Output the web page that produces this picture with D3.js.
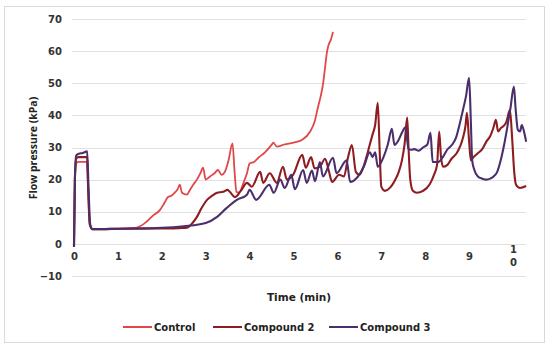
<!DOCTYPE html>
<html><head><meta charset="utf-8">
<script src="https://cdn.jsdelivr.net/npm/d3@7/dist/d3.min.js"></script>
<style>body{margin:0;background:#fff}svg{display:block}</style>
</head><body><svg id="c" width="550" height="350"></svg>
<script>
const seriesNames = ["Control", "Compound 2", "Compound 3"];
const seriesColors = ["#e0474a", "#8e1d22", "#4b2e6c"];
const yTicks = [-10, 0, 10, 20, 30, 40, 50, 60, 70];
const xTicks = [0, 1, 2, 3, 4, 5, 6, 7, 8, 9, 10];

const controlTime = [0, 0.02, 0.05, 0.1, 0.2, 0.29, 0.32, 0.36, 0.42, 0.6, 1.0, 1.4, 1.6, 1.8, 1.96, 2.05, 2.14, 2.22, 2.3, 2.36, 2.41, 2.46, 2.57, 2.64, 2.72, 2.8, 2.88, 2.94, 3.0, 3.1, 3.2, 3.28, 3.36, 3.44, 3.52, 3.61, 3.66, 3.7, 3.76, 3.86, 3.94, 4.0, 4.1, 4.2, 4.35, 4.5, 4.54, 4.62, 4.8, 5.0, 5.2, 5.38, 5.48, 5.56, 5.62, 5.67, 5.72, 5.76, 5.8, 5.85, 5.9];
const controlValues = [-1, 20, 25, 25.5, 25.5, 25.5, 18, 6, 4.6, 4.6, 4.7, 5, 6.3, 8.8, 10.6, 12.5, 14.6, 15, 16, 17, 18.4, 15.9, 15.3, 16.8, 18.5, 20, 22, 23.7, 20, 21, 22, 23, 21.5, 22.5, 26, 31.3, 22, 16.2, 16, 19, 22, 25, 25.5, 26.8, 28.5, 30.8, 31.5, 30.3, 31, 31.5, 32.4, 35, 38, 42.7, 46, 49.5, 55, 59.5, 62, 63.5, 66];

const compound2Time = [0, 0.02, 0.05, 0.1, 0.2, 0.3, 0.32, 0.36, 0.42, 0.6, 1.0, 2.0, 2.4, 2.57, 2.7, 2.8, 2.9, 3.03, 3.15, 3.26, 3.4, 3.5, 3.55, 3.67, 3.8, 3.94, 4.05, 4.24, 4.31, 4.46, 4.62, 4.76, 4.85, 4.99, 5.2, 5.28, 5.4, 5.48, 5.6, 5.72, 5.8, 5.88, 6.04, 6.15, 6.24, 6.33, 6.42, 6.5, 6.58, 6.66, 6.74, 6.8, 6.86, 6.92, 6.96, 7.0, 7.08, 7.2, 7.3, 7.4, 7.47, 7.53, 7.59, 7.62, 7.66, 7.72, 7.81, 7.95, 8.1, 8.2, 8.27, 8.32, 8.36, 8.41, 8.5, 8.6, 8.72, 8.8, 8.86, 8.92, 8.95, 9.0, 9.04, 9.1, 9.18, 9.3, 9.4, 9.48, 9.55, 9.61, 9.66, 9.72, 9.77, 9.85, 9.93, 9.98, 10.03, 10.07, 10.16, 10.3];
const compound2Values = [-1, 20, 26.5, 27, 27, 27, 18, 6, 4.6, 4.6, 4.7, 4.8, 4.9, 5, 6.5, 8.4, 11, 13.7, 15, 15.9, 16.2, 16.8, 16.2, 14.6, 16.5, 19, 17.8, 22.4, 19, 22, 19, 24, 20, 21.5, 27.7, 23.7, 27, 23.5, 24, 26.5, 23, 19.3, 21.5, 21, 26.8, 30.8, 22.4, 21.5, 23.5, 27, 31, 34, 37, 43.9, 30, 17.8, 16.5, 17.5, 19.5, 22.5, 26, 31, 39.3, 30, 20, 16.5, 15.9, 16.5, 18.5, 21.5, 24.6, 35, 27, 24, 24.5, 26.5, 28.3, 30.5, 33, 37, 40.8, 32, 26, 27, 28, 29.5, 32, 33.5, 36, 38.6, 35, 36, 36.5, 38, 41.7, 33, 22, 18.4, 17.4, 18];

const compound3Time = [0, 0.02, 0.05, 0.1, 0.2, 0.3, 0.33, 0.37, 0.42, 0.6, 1.0, 2.0, 2.5, 3.0, 3.26, 3.48, 3.71, 3.94, 4.0, 4.15, 4.45, 4.55, 4.7, 4.8, 4.95, 5.03, 5.22, 5.3, 5.42, 5.49, 5.6, 5.67, 5.9, 5.98, 6.21, 6.29, 6.44, 6.6, 6.74, 6.8, 6.86, 6.92, 7.05, 7.15, 7.24, 7.3, 7.38, 7.47, 7.55, 7.62, 7.68, 7.75, 7.85, 7.95, 8.05, 8.12, 8.17, 8.3, 8.4, 8.5, 8.62, 8.7, 8.78, 8.86, 8.93, 9.0, 9.04, 9.07, 9.12, 9.2, 9.3, 9.4, 9.48, 9.56, 9.64, 9.72, 9.8, 9.86, 9.94, 10.02, 10.06, 10.11, 10.16, 10.2, 10.25, 10.3];
const compound3Values = [-1, 20, 27.5, 28, 28.3, 28.8, 18, 6, 4.6, 4.6, 4.7, 5, 5.5, 6.5, 8.4, 11.2, 13.7, 15.3, 16.8, 13.7, 18.4, 15.9, 20, 17.4, 21.5, 17, 23, 19, 22.8, 19.5, 25.5, 21, 26.8, 22, 26, 19.3, 20.5, 24, 28.5, 27, 28.5, 24, 27, 31, 35.8, 30.8, 32, 34.6, 36.3, 29.5, 29.3, 29.5, 29, 30, 31, 34.6, 25.5, 25.5, 27, 29.3, 31, 33, 37, 41.7, 46, 51.7, 38, 26, 23, 21, 20.3, 20, 20.3, 21, 22.4, 26, 31, 35.5, 42, 49, 42, 35.5, 35, 37, 35, 31.8];

const seriesTimes = [controlTime, compound2Time, compound3Time];
const seriesValues = [controlValues, compound2Values, compound3Values];

const svg = d3.select("#c");
svg.append("rect").attr("x", 4.5).attr("y", 6.5).attr("width", 540).attr("height", 336)
  .attr("fill", "#fff").attr("stroke", "#d9d9d9");

const x = d3.scaleLinear().domain([0, 10]).range([74, 513]);
const y = d3.scaleLinear().domain([-10, 70]).range([276, 19]);

// gridlines
svg.append("g").selectAll("line").data(yTicks).join("line")
  .attr("x1", 72).attr("x2", 526)
  .attr("y1", d => Math.round(y(d)) + 0.5).attr("y2", d => Math.round(y(d)) + 0.5)
  .attr("stroke", "#e0e0e0").attr("stroke-width", 1);

// y axis labels
const yAxis = svg.append("g").attr("transform", "translate(62,0)")
  .call(d3.axisLeft(y).tickValues(yTicks).tickSize(0).tickPadding(0));
yAxis.select(".domain").remove();
yAxis.selectAll("text").attr("font-family", "DejaVu Sans").attr("font-weight", "bold")
  .attr("font-size", 10).attr("fill", "#333");

// x axis labels
const xAxis = svg.append("g").attr("transform", "translate(0,244)")
  .call(d3.axisBottom(x).tickValues(xTicks).tickSize(0).tickPadding(9).tickFormat(d => d === 10 ? "" : d));
xAxis.select(".domain").remove();
xAxis.selectAll("text").attr("font-family", "DejaVu Sans").attr("font-weight", "bold")
  .attr("font-size", 10).attr("fill", "#333");
const ten = xAxis.selectAll(".tick").filter(d => d === 10).select("text");
String(10).split("").forEach((ch, i) => {
  ten.append("tspan").attr("x", 0).attr("dy", i === 0 ? 0 : 12.5).text(ch);
});

// axis titles
svg.append("text").attr("x", 299).attr("y", 301).attr("text-anchor", "middle")
  .attr("font-family", "DejaVu Sans").attr("font-weight", "bold").attr("font-size", 10.5)
  .attr("fill", "#222").text("Time (min)");
svg.append("text").attr("transform", "translate(37,148) rotate(-90)").attr("text-anchor", "middle")
  .attr("font-family", "Open Sans").attr("font-weight", "bold").attr("font-size", 10.5)
  .attr("fill", "#222").text("Flow pressure (kPa)");

// lines
const line = d3.line().x(d => x(d[0])).y(d => y(d[1])).curve(d3.curveMonotoneX);
seriesNames.forEach((name, i) => {
  const pts = seriesTimes[i].map((t, j) => [t, seriesValues[i][j]]);
  svg.append("path").datum(pts).attr("d", line).attr("fill", "none")
    .attr("stroke", seriesColors[i]).attr("stroke-width", i === 0 ? 1.8 : 2.1)
    .attr("stroke-linejoin", "round");
});

// legend
const legendX = [123, 213, 329];
const lg = svg.append("g").selectAll("g").data(seriesNames).join("g")
  .attr("transform", (d, i) => `translate(${legendX[i]},327)`);
lg.append("line").attr("x1", 0).attr("x2", 29).attr("stroke", (d, i) => seriesColors[i]).attr("stroke-width", 2);
lg.append("text").attr("x", 31).attr("y", 3.8).attr("font-family", "DejaVu Sans").attr("font-weight", "bold")
  .attr("font-size", 10).attr("fill", "#222").text(d => d);
</script></body></html>
